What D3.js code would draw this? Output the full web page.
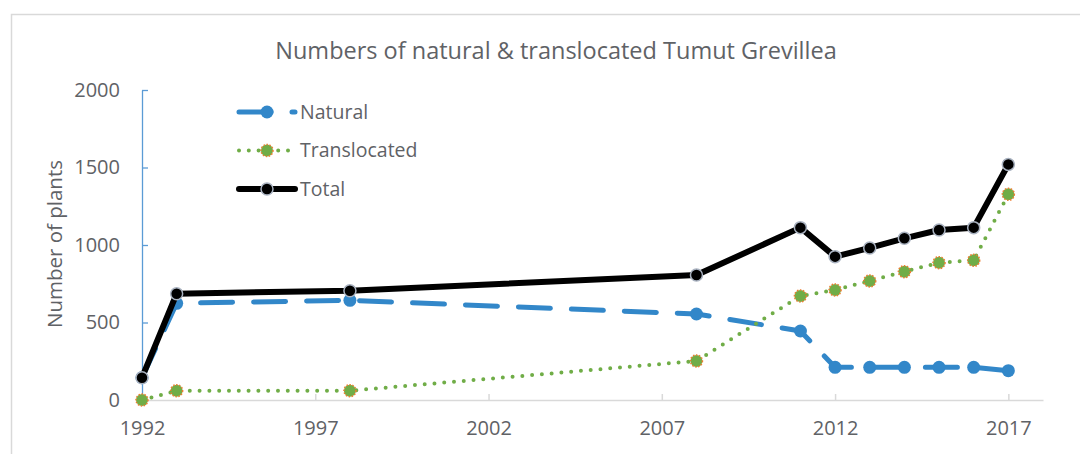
<!DOCTYPE html>
<html>
<head>
<meta charset="utf-8">
<script src="https://cdn.jsdelivr.net/npm/d3@7"></script>
<style>
  body { margin: 0; background: #fff; }
  svg { display: block; font-family: "Open Sans", sans-serif; }
</style>
</head>
<body>
<div id="chart"></div>
<script>
const years = [1992, 1993, 1998, 2008, 2011, 2012, 2013, 2014, 2015, 2016, 2017];
const natural = [144, 624, 643, 555, 445, 211, 211, 211, 211, 211, 189];
const translocated = [0, 60, 60, 252, 671, 710, 768, 828, 886, 901, 1327];
const total = [144, 686, 705, 806, 1112, 925, 981, 1043, 1097, 1112, 1520];
const xTicks = [1992, 1997, 2002, 2007, 2012, 2017];
const yTicks = [0, 500, 1000, 1500, 2000];

const width = 1080, height = 454;
const textColor = "#5f6266";

const svg = d3.select("#chart").append("svg")
    .attr("width", width)
    .attr("height", height);

// chart frame
svg.append("rect")
    .attr("x", 11.5).attr("y", 14.5)
    .attr("width", 1100).attr("height", 500)
    .attr("fill", "#fff")
    .attr("stroke", "#d9d9d9")
    .attr("stroke-width", 1.5);

const x = d3.scaleLinear().domain([1992, 2018]).range([142, 1043]);
const y = d3.scaleLinear().domain([0, 2000]).range([400, 90]);

// x axis
const xAxis = svg.append("g")
    .attr("transform", `translate(0,${y(0)})`)
    .call(d3.axisBottom(x).tickValues(xTicks).tickFormat(d3.format("d")).tickSizeInner(-6).tickSizeOuter(0).tickPadding(21));
xAxis.select(".domain").attr("stroke", "#d9d9d9").attr("stroke-width", 1.5);
xAxis.selectAll(".tick line").attr("stroke", "#d9d9d9").attr("stroke-width", 1.5);
xAxis.selectAll(".tick text")
    .attr("fill", textColor)
    .attr("font-size", 20)
    .attr("font-family", "Open Sans, sans-serif");

// y axis
const yAxis = svg.append("g")
    .attr("transform", `translate(${x(1992)},0)`)
    .call(d3.axisLeft(y).tickValues(yTicks).tickFormat(d3.format("d")).tickSizeInner(-6).tickSizeOuter(0).tickPadding(22));
yAxis.select(".domain").attr("stroke", "#5b9bd5").attr("stroke-width", 1.3);
yAxis.selectAll(".tick line").attr("stroke", "#5b9bd5").attr("stroke-width", 1.3);
yAxis.selectAll(".tick text")
    .attr("fill", textColor)
    .attr("font-size", 20)
    .attr("font-family", "Open Sans, sans-serif");

// titles
svg.append("text")
    .attr("x", 556).attr("y", 59)
    .attr("text-anchor", "middle")
    .attr("fill", textColor)
    .attr("font-size", 23.5)
    .text("Numbers of natural & translocated Tumut Grevillea");

svg.append("text")
    .attr("transform", `translate(62,244) rotate(-90)`)
    .attr("text-anchor", "middle")
    .attr("fill", textColor)
    .attr("font-size", 20.5)
    .text("Number of plants");

const series = [
    { name: "Natural", values: natural, color: "#3287c9", width: 5, dash: "32 21",
      marker: { r: 6.5, fill: "#3287c9", stroke: "none" } },
    { name: "Translocated", values: translocated, color: "#70ad47", width: 4, dash: "0 9.8",
      marker: { r: 6, fill: "#70ad47", stroke: "#ed7d31", sdash: "1.5 1.5" } },
    { name: "Total", values: total, color: "#000", width: 6, dash: null,
      marker: { r: 6, fill: "#000", stroke: "#a9b2c0" } }
];

const line = d3.line()
    .x((d, i) => x(years[i]))
    .y(d => y(d));

series.forEach(s => {
    const g = svg.append("g");
    g.append("path")
        .datum(s.values)
        .attr("d", line)
        .attr("fill", "none")
        .attr("stroke", s.color)
        .attr("stroke-width", s.width)
        .attr("stroke-linecap", "round")
        .attr("stroke-linejoin", "round")
        .attr("stroke-dasharray", s.dash);
    g.selectAll("circle")
        .data(s.values)
        .join("circle")
        .attr("cx", (d, i) => x(years[i]))
        .attr("cy", d => y(d))
        .attr("r", s.marker.r)
        .attr("fill", s.marker.fill)
        .attr("stroke", s.marker.stroke)
        .attr("stroke-width", 1.5)
        .attr("stroke-dasharray", s.marker.sdash || null);
});

// legend
const legend = svg.append("g");
series.forEach((s, i) => {
    const ly = 112 + i * 38.5;
    const lg = legend.append("g");
    lg.append("line")
        .attr("x1", 239).attr("x2", 295)
        .attr("y1", ly).attr("y2", ly)
        .attr("stroke", s.color)
        .attr("stroke-width", s.width)
        .attr("stroke-linecap", "round")
        .attr("stroke-dasharray", s.dash);
    lg.append("circle")
        .attr("cx", 267).attr("cy", ly)
        .attr("r", s.marker.r)
        .attr("fill", s.marker.fill)
        .attr("stroke", s.marker.stroke)
        .attr("stroke-width", 1.5)
        .attr("stroke-dasharray", s.marker.sdash || null);
    lg.append("text")
        .attr("x", 300).attr("y", ly)
        .attr("dy", "0.35em")
        .attr("fill", textColor)
        .attr("font-size", 19.5)
        .text(s.name);
});
</script>
</body>
</html>
